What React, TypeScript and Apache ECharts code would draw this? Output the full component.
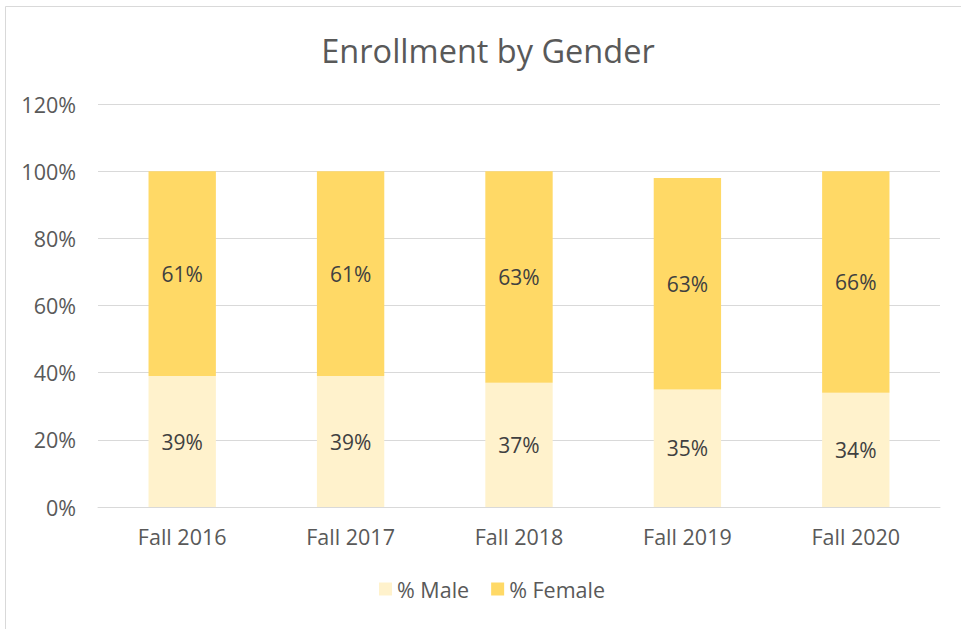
import React, { useEffect, useRef } from "react";
import * as echarts from "echarts";

const categories = ["Fall 2016", "Fall 2017", "Fall 2018", "Fall 2019", "Fall 2020"];
const maleValues = [39, 39, 37, 35, 34];
const femaleValues = [61, 61, 63, 63, 66];
const seriesNames = ["% Male", "% Female"];
const titleText = "Enrollment by Gender";

export default function App() {
  const ref = useRef<HTMLDivElement>(null);
  useEffect(() => {
    document.body.style.margin = "0";
    const chart = echarts.init(ref.current!, null, { renderer: "svg" });
    const font = "'Open Sans', sans-serif";
    const labelStyle = {
      show: true,
      position: "inside",
      formatter: (p: any) => p.value + "%",
      color: "#404040",
      fontSize: 21,
      fontFamily: font,
    };
    chart.setOption({
      animation: false,
      backgroundColor: "#ffffff",
      title: {
        text: titleText,
        left: 483,
        textAlign: "center",
        top: 29,
        textStyle: { color: "#595959", fontSize: 32.5, fontWeight: "normal", fontFamily: font },
      },
      graphic: [
        {
          type: "rect",
          shape: { x: 5.5, y: 6.5, width: 1000, height: 1000 },
          style: { fill: "none", stroke: "#d9d9d9", lineWidth: 1 },
          silent: true,
        },
      ],
      legend: {
        bottom: 24,
        left: 374,
        itemWidth: 13,
        itemHeight: 13,
        itemGap: 22,
        icon: "rect",
        textStyle: { color: "#595959", fontSize: 21.5, fontFamily: font },
        data: seriesNames,
      },
      grid: { left: 98, right: 21, top: 104, bottom: 122, containLabel: false },
      xAxis: {
        type: "category",
        data: categories,
        axisLine: { lineStyle: { color: "#d9d9d9" } },
        axisTick: { show: false },
        axisLabel: { color: "#595959", fontSize: 21.5, fontFamily: font, margin: 18 },
      },
      yAxis: {
        type: "value",
        min: 0,
        max: 120,
        interval: 20,
        axisLine: { show: false },
        axisTick: { show: false },
        splitLine: { lineStyle: { color: "#d9d9d9", width: 1 } },
        axisLabel: {
          color: "#595959",
          fontSize: 21.5,
          fontFamily: font,
          margin: 22,
          formatter: (v: number) => v + "%",
        },
      },
      series: [
        {
          name: seriesNames[0],
          type: "bar",
          stack: "total",
          data: maleValues,
          barWidth: "40%",
          itemStyle: { color: "#FFF2CC" },
          label: labelStyle,
        },
        {
          name: seriesNames[1],
          type: "bar",
          stack: "total",
          data: femaleValues,
          barWidth: "40%",
          itemStyle: { color: "#FFD966" },
          label: labelStyle,
        },
      ],
    });
    return () => chart.dispose();
  }, []);
  return <div ref={ref} style={{ width: 961, height: 629 }} />;
}
